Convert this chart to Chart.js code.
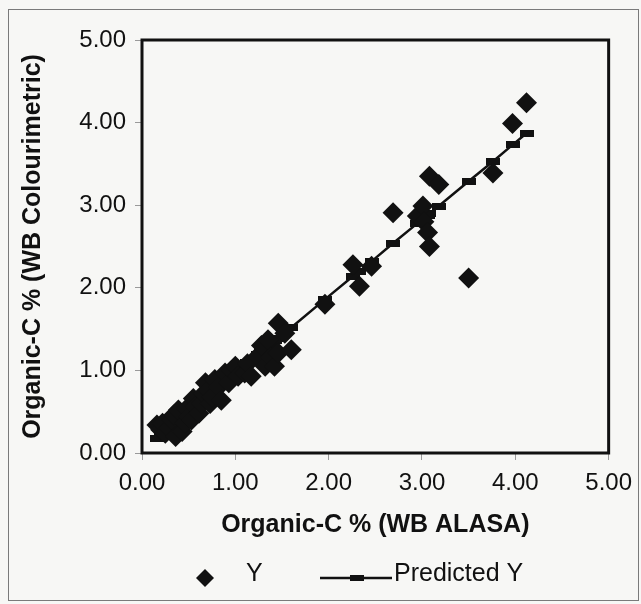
<!DOCTYPE html>
<html>
<head>
<meta charset="utf-8">
<script src="https://cdn.jsdelivr.net/npm/chart.js@4/dist/chart.umd.min.js"></script>
<style>
  html, body { margin: 0; padding: 0; background: #f7f7f5; }
  #wrap { width: 641px; height: 604px; }
</style>
</head>
<body>
<div id="wrap"><canvas id="chart" width="641" height="604"></canvas></div>
<script>
// Organic-C % measured by WB ALASA (x) vs WB Colourimetric (y)
const alasa = [
  0.16, 0.20, 0.22, 0.25, 0.29, 0.32, 0.34, 0.36, 0.39, 0.43,
  0.46, 0.48, 0.50, 0.53, 0.55, 0.57, 0.61, 0.64, 0.66, 0.68,
  0.71, 0.73, 0.75, 0.78, 0.82, 0.85, 0.89, 0.93, 0.96, 1.00,
  1.03, 1.10, 1.13, 1.17, 1.24, 1.28, 1.32, 1.35, 1.38, 1.42,
  1.46, 1.46, 1.53, 1.60, 1.96, 2.26, 2.33, 2.46, 2.69, 2.95,
  3.01, 3.02, 3.06, 3.08, 3.08, 3.18, 3.50, 3.76, 3.97, 4.12
];
const colourimetric = [
  0.34, 0.28, 0.36, 0.24, 0.30, 0.40, 0.46, 0.20, 0.52, 0.26,
  0.36, 0.54, 0.44, 0.40, 0.66, 0.56, 0.48, 0.60, 0.72, 0.85,
  0.76, 0.60, 0.68, 0.89, 0.80, 0.64, 0.97, 0.85, 1.00, 1.05,
  0.93, 0.97, 1.08, 0.93, 1.17, 1.30, 1.05, 1.37, 1.16, 1.05,
  1.21, 1.57, 1.45, 1.25, 1.80, 2.28, 2.02, 2.26, 2.91, 2.87,
  2.99, 2.80, 2.67, 2.50, 3.35, 3.25, 2.12, 3.39, 3.99, 4.24
];
const predicted = [
  0.18, 0.22, 0.24, 0.27, 0.30, 0.33, 0.35, 0.37, 0.40, 0.44,
  0.46, 0.48, 0.50, 0.53, 0.55, 0.56, 0.60, 0.63, 0.65, 0.67,
  0.70, 0.71, 0.73, 0.76, 0.80, 0.83, 0.86, 0.90, 0.93, 0.97,
  0.99, 1.06, 1.09, 1.12, 1.19, 1.23, 1.26, 1.29, 1.32, 1.36,
  1.39, 1.39, 1.46, 1.52, 1.86, 2.14, 2.20, 2.32, 2.54, 2.78,
  2.83, 2.84, 2.88, 2.90, 2.90, 2.99, 3.29, 3.53, 3.73, 3.87
];
const tickValues = [0, 1, 2, 3, 4, 5];

const FONT = '"Liberation Sans", Arial, sans-serif';
const INK = '#111';

// small dash used as the Predicted Y marker
const dash = document.createElement('canvas');
dash.width = 14;
dash.height = 7;
dash.getContext('2d').fillStyle = INK;
dash.getContext('2d').fillRect(0, 0, 14, 7);

const paperPlugin = {
  id: 'paper',
  beforeDraw(chart) {
    const { ctx } = chart;
    ctx.save();
    ctx.fillStyle = '#f7f7f5';
    ctx.fillRect(0, 0, chart.width, chart.height);
    ctx.strokeStyle = '#7a7a7a';
    ctx.lineWidth = 1;
    ctx.strokeRect(8.5, 9.5, 630, 591);
    ctx.restore();
  },
  afterDatasetsDraw(chart) {
    const { ctx, chartArea: a } = chart;
    ctx.save();
    ctx.strokeStyle = INK;
    ctx.lineWidth = 3;
    ctx.strokeRect(a.left, a.top, a.right - a.left, a.bottom - a.top);
    ctx.restore();
  }
};

const legendPlugin = {
  id: 'bottomLegend',
  afterDraw(chart) {
    const { ctx } = chart;
    const [ySet, predSet] = chart.data.datasets;
    ctx.save();
    ctx.fillStyle = INK;
    ctx.strokeStyle = INK;
    // diamond
    ctx.beginPath();
    ctx.moveTo(205, 569);
    ctx.lineTo(214, 578);
    ctx.lineTo(205, 587);
    ctx.lineTo(196, 578);
    ctx.closePath();
    ctx.fill();
    // line with marker
    ctx.lineWidth = 2.5;
    ctx.beginPath();
    ctx.moveTo(320, 578);
    ctx.lineTo(392, 578);
    ctx.stroke();
    ctx.fillRect(350, 575, 14, 6);
    ctx.font = '25px ' + FONT;
    ctx.textBaseline = 'middle';
    ctx.textAlign = 'left';
    ctx.fillText(ySet.label, 246, 574);
    ctx.fillText(predSet.label, 394, 574);
    ctx.restore();
  }
};

const axisCommon = {
  type: 'linear',
  min: 0,
  max: 5,
  border: { display: false },
  grid: {
    drawOnChartArea: false,
    drawTicks: true,
    tickLength: 7,
    color: '#9a9a9a'
  },
  afterBuildTicks: (scale) => {
    scale.ticks = tickValues.map((value) => ({ value }));
  }
};

new Chart(document.getElementById('chart'), {
  type: 'scatter',
  data: {
    datasets: [
      {
        label: 'Y',
        data: alasa.map((x, i) => ({ x, y: colourimetric[i] })),
        pointStyle: 'rectRot',
        pointRadius: 10.5,
        pointBackgroundColor: INK,
        pointBorderWidth: 0,
        order: 0
      },
      {
        label: 'Predicted Y',
        data: alasa.map((x, i) => ({ x, y: predicted[i] })),
        showLine: true,
        borderColor: INK,
        borderWidth: 2.5,
        pointStyle: dash,
        pointRadius: 6,
        order: 1
      }
    ]
  },
  options: {
    responsive: false,
    animation: false,
    events: [],
    layout: {
      padding: { left: 18, top: 40, right: 31, bottom: 64 }
    },
    plugins: {
      legend: { display: false },
      tooltip: { enabled: false }
    },
    scales: {
      x: {
        ...axisCommon,
        position: 'bottom',
        afterFit: (scale) => { scale.height = 87; },
        ticks: {
          padding: 9,
          color: INK,
          font: { family: FONT, size: 24 },
          callback: (value) => value.toFixed(2)
        },
        title: {
          display: true,
          text: 'Organic-C % (WB ALASA)',
          color: INK,
          padding: 0,
          font: { family: FONT, size: 25, weight: 'bold', lineHeight: 1.2 }
        }
      },
      y: {
        ...axisCommon,
        position: 'left',
        afterFit: (scale) => { scale.width = 124; },
        ticks: {
          padding: 9,
          color: INK,
          font: { family: FONT, size: 24 },
          callback: (value) => value.toFixed(2)
        },
        title: {
          display: true,
          text: 'Organic-C % (WB Colourimetric)',
          color: INK,
          padding: 0,
          font: { family: FONT, size: 25, weight: 'bold', lineHeight: 1.2 }
        }
      }
    }
  },
  plugins: [paperPlugin, legendPlugin]
});
</script>
</body>
</html>
